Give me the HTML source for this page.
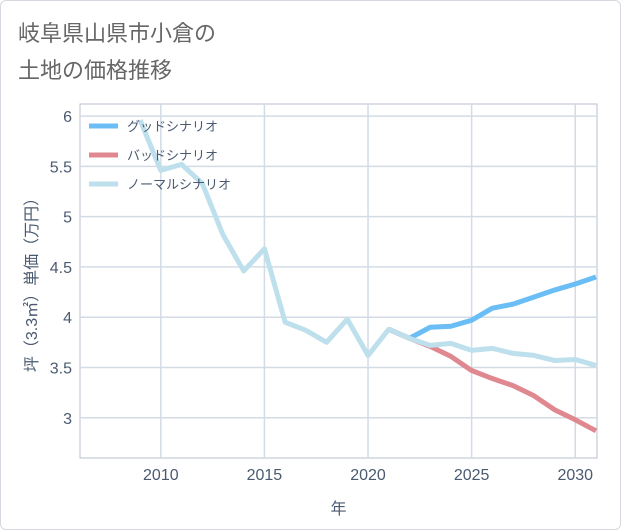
<!DOCTYPE html>
<html><head><meta charset="utf-8"><style>
body{margin:0;background:#fff;}
.card{position:absolute;left:0;top:0;width:619px;height:528px;border:1px solid #d5d8de;border-radius:6px;background:#fff;}
svg{position:absolute;left:0;top:0;}
text{font-family:"Liberation Sans","Noto Sans CJK JP",sans-serif;}
</style></head><body>
<div class="card"></div>
<svg id="chart" width="621" height="530">
<text x="18" y="41" font-size="22" fill="#666">岐阜県山県市小倉の</text>
<text x="18" y="78" font-size="22" fill="#666">土地の価格推移</text>
<g id="grid"></g><g id="lines"></g><g id="legend"></g>
</svg>
<script>
const years=[2009,2010,2011,2012,2013,2014,2015,2016,2017,2018,2019,2020,2021,2022,2023,2024,2025,2026,2027,2028,2029,2030,2031];
const normal=[5.96,5.46,5.52,5.33,4.82,4.46,4.68,3.95,3.87,3.75,3.98,3.62,3.88,3.79,3.72,3.74,3.67,3.69,3.64,3.62,3.57,3.58,3.52];
const goodYears=[2021,2022,2023,2024,2025,2026,2027,2028,2029,2030,2031];
const good=[3.88,3.79,3.90,3.91,3.97,4.09,4.13,4.20,4.27,4.33,4.40];
const bad=[3.88,3.79,3.71,3.61,3.47,3.39,3.32,3.22,3.08,2.98,2.87];
const xTicks=[2010,2015,2020,2025,2030];
const yTicks=[3,3.5,4,4.5,5,5.5,6];
const yLabels=["3","3.5","4","4.5","5","5.5","6"];
const L=80,R=597,T=104,B=458,x0=2006.1,x1=2031.05,y0=2.6,y1=6.12;
const sx=v=>L+(v-x0)/(x1-x0)*(R-L);
const sy=v=>B-(v-y0)/(y1-y0)*(B-T);
const NS="http://www.w3.org/2000/svg";
function mk(tag,attrs,parent){const e=document.createElementNS(NS,tag);for(const k in attrs)e.setAttribute(k,attrs[k]);parent.appendChild(e);return e;}
const grid=document.getElementById('grid');
const bg=mk('rect',{x:L,y:T,width:R-L,height:B-T,fill:'#fff',stroke:'#b8c0cc'},grid);


xTicks.forEach(t=>{
 const l=mk('line',{x1:sx(t),x2:sx(t),y1:T,y2:B,stroke:'#d3dbe5','stroke-width':1.5},grid);
 
 
 const tx=mk('text',{x:sx(t),y:B+22,'font-size':16,fill:'#4a5a70','text-anchor':'middle'},grid);
 tx.textContent=t;
 
 
});
yTicks.forEach((t,i)=>{
 const l=mk('line',{x1:L,x2:R,y1:sy(t),y2:sy(t),stroke:'#d3dbe5','stroke-width':1.5},grid);
 
 
 const tx=mk('text',{x:L-8,y:sy(t)+6,'font-size':16,fill:'#4a5a70','text-anchor':'end'},grid);
 tx.textContent=yLabels[i];
 
 
});
const xt=mk('text',{x:(L+R)/2,y:514,'font-size':16,fill:'#4a5a70','text-anchor':'middle'},grid);
xt.textContent='年';


const yt=mk('text',{x:0,y:0,'font-size':16,fill:'#4a5a70','text-anchor':'middle',transform:`translate(37,${(T+B)/2}) rotate(-90)`},grid);
yt.textContent='坪（3.3㎡）単価（万円）';


const lines=document.getElementById('lines');
function series(xs,ys,color,name){
 const p=mk('polyline',{points:xs.map((x,i)=>sx(x)+','+sy(ys[i])).join(' '),fill:'none',stroke:color,'stroke-width':5,'stroke-linejoin':'round'},lines);
 
 
}
series(goodYears,good,'#6bbdf5','good-scenario-line');
series(goodYears,bad,'#e08890','bad-scenario-line');
series(years,normal,'#bde0ec','normal-scenario-line');
const leg=document.getElementById('legend');
[['グッドシナリオ','#6bbdf5','legend-good'],['バッドシナリオ','#e08890','legend-bad'],['ノーマルシナリオ','#bde0ec','legend-normal']].forEach((d,i)=>{
 const y=126+i*29;
 const g=mk('g',{},leg);
 
 
 mk('line',{x1:89,x2:118,y1:y,y2:y,stroke:d[1],'stroke-width':5},g);
 const t=mk('text',{x:127,y:y+5,'font-size':13,fill:'#4a5a70'},g);
 t.textContent=d[0];
});
</script>
</body></html>
